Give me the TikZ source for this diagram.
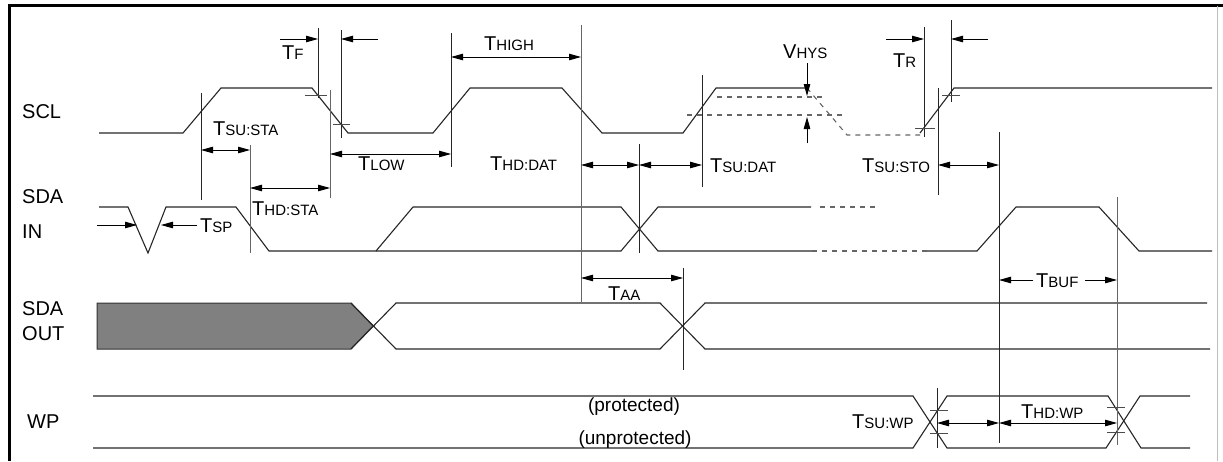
\documentclass[tikz,border=0pt]{standalone}
\usepackage{fontspec}
\setmainfont{Liberation Sans}
\usetikzlibrary{arrows.meta}
\newcommand{\TT}[1]{{\fontsize{20}{21}\selectfont T}{\fontsize{15}{16}\selectfont #1}}
\newcommand{\VV}[1]{{\fontsize{20}{21}\selectfont V}{\fontsize{15}{16}\selectfont #1}}
\tikzset{
  sig/.style={line width=1.1pt, black!85},
  dsig/.style={line width=1.1pt, black!60, dash pattern=on 5pt off 5pt},
  vl/.style={line width=0.9pt, black!85},
  vlg/.style={line width=0.9pt, black!60},
  tk/.style={line width=0.8pt, black!70},
  tip/.tip={Triangle[length=12pt,width=6.5pt]},
  dimr/.style={line width=0.9pt, black, -tip},
  dimb/.style={line width=0.9pt, black, tip-tip},
  lbl/.style={anchor=base west, inner sep=0pt, font=\fontsize{20}{21}\selectfont},
  tl/.style={anchor=base west, inner sep=0pt},
}
\begin{document}
\begin{tikzpicture}[x=1pt,y=-1pt]
\useasboundingbox (0,0) rectangle (1223,461);
% frame
\draw[line width=3pt] (1223,5) -- (9,5) -- (9,461);
\draw[line width=1pt, black!25] (1217,6) -- (1217,461);

% signal labels
\node[lbl] (scl) at (22,118) {SCL};
\node[lbl] (sdain1) at (22,203) {SDA};
\node[lbl] (sdain2) at (22,238) {IN};
\node[lbl] (sdaout1) at (22,315) {SDA};
\node[lbl] (sdaout2) at (22,340) {OUT};
\node[lbl] (wp) at (27,428) {WP};

% ---------- SCL ----------
\draw[sig] (99,133) -- (183,133) -- (221,88) -- (312,88) -- (348,133) -- (433,133)
  -- (470,88) -- (562,88) -- (602,133) -- (683,133) -- (716,88) -- (807,88);
\draw[dsig] (807,88) -- (847,135) -- (920,135);
\draw[dsig] (717,97) -- (823,97);
\draw[dsig] (687,115) -- (845,115);
\draw[sig] (920,133) -- (954,88) -- (1212,88);

% ---------- SDA IN ----------
\draw[sig] (99,207) -- (128,207) -- (148,253) -- (166,207) -- (236,207) -- (269,251)
  -- (376,251) -- (413,207) -- (621,207) -- (658,251) -- (812,251);
\draw[sig] (376,251) -- (621,251) -- (658,207) -- (811,207);
\draw[dsig] (812,251) -- (927,251);
\draw[dsig] (820,207) -- (877,207);
\draw[sig] (927,251) -- (977,251) -- (1016,207) -- (1099,207) -- (1139,251) -- (1212,251);

% ---------- SDA OUT ----------
\draw[line width=1pt, black!80, fill=black!50] (97,303) -- (351,303) -- (373,326) -- (351,349) -- (97,349) -- cycle;
\draw[sig] (351,303) -- (396,349) -- (660,349) -- (705,303) -- (1207,303);
\draw[sig] (351,349) -- (396,303) -- (660,303) -- (705,349) -- (1210,349);

% ---------- WP ----------
\draw[sig] (93,396) -- (913,396) -- (947,448) -- (1106,448) -- (1140,396) -- (1190,396);
\draw[sig] (93,448) -- (913,448) -- (947,396) -- (1108,396) -- (1141,448) -- (1190,448);
\node[inner sep=0pt, anchor=base, font=\fontsize{19}{21}\selectfont] (prot) at (634,411) {(protected)};
\node[inner sep=0pt, anchor=base, font=\fontsize{19}{21}\selectfont] (unprot) at (635,444) {(unprotected)};

% ---------- vertical reference lines ----------
\draw[vl] (201,93) -- (201,200);
\draw[vlg] (250,145) -- (250,253);
\draw[vl] (318,28) -- (318,98);
\draw[vl] (341,30) -- (341,138);
\draw[vlg] (330,90) -- (330,198);
\draw[vl] (451,33) -- (451,167);
\draw[vlg] (581,25) -- (581,302);
\draw[vl] (639,144) -- (639,253);
\draw[vl] (702,75) -- (702,187);
\draw[vl] (683,268) -- (683,370);
\draw[vl] (924,27) -- (924,137);
\draw[vl] (951,20) -- (951,102);
\draw[vl] (938,88) -- (938,195);
\draw[vl] (999,132) -- (999,443);
\draw[vlg] (1117,197) -- (1117,445);
\draw[vl] (937,388) -- (937,448);

% ticks
\draw[tk] (305,95) -- (327,95);
\draw[tk] (333,124) -- (350,124);
\draw[tk] (915,128) -- (935,128);
\draw[tk] (942,95) -- (960,95);
\draw[tk] (930,410) -- (948,410);
\draw[tk] (930,433) -- (948,433);
\draw[tk] (1107,407) -- (1125,407);
\draw[tk] (1107,432) -- (1125,432);

% ---------- dimension arrows ----------
\draw[dimr] (280,39) -- (318,39);
\draw[dimr] (378,39) -- (341,39);
\draw[dimb] (201,150) -- (250,150);
\draw[dimb] (250,188) -- (330,188);
\draw[dimb] (330,154) -- (451,154);
\draw[dimb] (451,57) -- (581,57);
\draw[dimb] (581,165) -- (639,165);
\draw[dimb] (639,165) -- (702,165);
\draw[dimb] (581,278) -- (683,278);
\draw[dimb] (938,165) -- (999,165);
\draw[dimr] (1033,280) -- (999,280);
\draw[dimr] (1085,280) -- (1117,280);
\draw[dimr] (886,39) -- (924,39);
\draw[dimr] (988,39) -- (951,39);
\draw[dimr] (807,63) -- (807,96);
\draw[dimr] (807,143) -- (807,117);
\draw[dimr] (97,225) -- (137,225);
\draw[dimr] (197,225) -- (161,225);
\draw[dimb] (937,423) -- (999,423);
\draw[dimb] (999,423) -- (1117,423);

% ---------- timing labels ----------
\node[tl] (tf) at (282,59) {\TT{F}};
\node[tl] (tsusta) at (213,135) {\TT{SU:STA}};
\node[tl] (thdsta) at (252,215) {\TT{HD:STA}};
\node[tl] (tlow) at (358,170) {\TT{LOW}};
\node[tl] (thigh) at (484,50) {\TT{HIGH}};
\node[tl] (thddat) at (490,170) {\TT{HD:DAT}};
\node[tl] (tsudat) at (710,172) {\TT{SU:DAT}};
\node[tl] (vhys) at (783,58) {\VV{HYS}};
\node[tl] (tr) at (893,67) {\TT{R}};
\node[tl] (tsusto) at (862,172) {\TT{SU:STO}};
\node[tl] (tsp) at (200,232) {\TT{SP}};
\node[tl] (taa) at (608,300) {\TT{AA}};
\node[tl] (tbuf) at (1036,287) {\TT{BUF}};
\node[tl] (tsuwp) at (852,428) {\TT{SU:WP}};
\node[tl] (thdwp) at (1021,418) {\TT{HD:WP}};
\end{tikzpicture}
\end{document}
